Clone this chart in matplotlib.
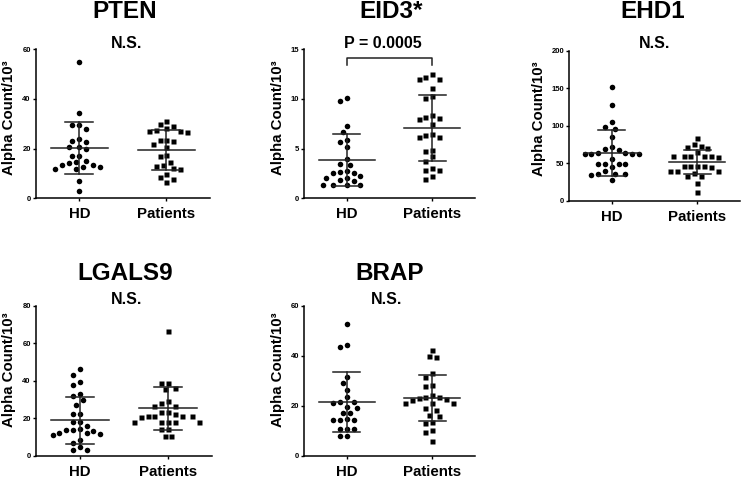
import numpy as np
import matplotlib
matplotlib.use('Agg')
import matplotlib.pyplot as plt

plt.rcParams['font.family'] = ['Liberation Sans', 'DejaVu Sans']
plt.rcParams['font.weight'] = 'bold'

# values (Alpha Count / 10^3)
groups = ['HD', 'Patients']

pten_hd = [54.6, 34.1, 29.5, 28.0, 29.5, 23.7, 22.8, 23.0, 20.7, 20.5, 19.8, 17.1, 17.1,
           14.3, 13.2, 12.6, 11.8, 11.6, 12.4, 13.4, 14.6, 15.0, 7.1, 2.8]
pten_pat = [31.2, 29.9, 29.0, 28.1, 27.4, 27.2, 27.0, 26.8, 23.6, 23.4, 23.2, 21.8, 20.7,
            17.4, 17.0, 14.7, 13.4, 13.0, 12.2, 11.8, 9.8, 8.7, 7.6, 6.7]

eid3_hd = [10.1, 9.8, 7.3, 6.7, 5.9, 5.7, 5.2, 3.9, 3.4, 3.3, 2.7, 2.6, 2.5, 2.5, 2.2,
           2.0, 1.8, 1.7, 2.0, 1.3, 1.3, 1.3, 1.3]
eid3_pat = [12.5, 12.2, 12.0, 12.0, 11.1, 10.3, 10.1, 8.4, 8.2, 8.1, 8.0, 7.5, 6.5, 6.4,
            6.2, 6.2, 4.9, 4.8, 4.2, 3.7, 3.0, 2.8, 2.8, 2.2, 1.9]

ehd1_hd = [151, 127, 105, 98, 96, 85, 71, 69, 68, 63, 62, 62, 62, 62, 63, 56, 49, 49, 49,
           49, 45, 39, 36, 36, 36, 34, 28]
ehd1_pat = [83, 75, 73, 72, 70, 65, 60, 60, 60, 60, 60, 58, 46, 46, 46, 45, 46, 40, 40, 40,
            37, 33, 33, 24, 12]

lgals9_hd = [46, 43, 39.5, 37.7, 33, 32, 29.7, 27, 22, 22, 18, 18, 16, 13.7, 13.7, 13, 14,
             11.5, 11, 12, 12, 8.4, 7, 4.4, 3, 3]
lgals9_pat = [66.5, 39, 39, 36, 35.4, 29, 28, 26.7, 26.7, 23.5, 23.5, 22, 21.4, 21, 21, 21,
              20.5, 18, 18, 18, 18, 18, 14, 14, 10.5, 10.5]

brap_hd = [52.8, 44.4, 43.6, 31.6, 29, 26.4, 23.6, 21.6, 21.4, 21.2, 19, 19.5, 17, 17, 14.6,
           14.4, 14.2, 14.2, 10.8, 10.8, 10.8, 8, 7.8]
brap_pat = [42.5, 40, 39.6, 33, 31.6, 28.2, 27.8, 24.3, 23.5, 23.5, 23.3, 22.5, 22.8, 21, 21,
            21, 19, 18.4, 16.2, 16, 13.3, 13.5, 10.5, 9.4, 5.9]

# mean and SD as drawn (HD, Patients)
pten_mean, pten_sd = [20.2, 19.5], [10.4, 8.0]
eid3_mean, eid3_sd = [3.85, 7.05], [2.6, 3.35]
ehd1_mean, ehd1_sd = [63.8, 51.5], [30.7, 16.5]
lgals9_mean, lgals9_sd = [18.8, 25.2], [12.5, 11.3]
brap_mean, brap_sd = [21.5, 23.0], [11.9, 9.2]

W, H = 745, 478
fig = plt.figure(figsize=(W / 100, H / 100), dpi=100)


def px_axes(l, t, r, b):
    return fig.add_axes([l / W, 1 - b / H, (r - l) / W, (b - t) / H])


def swarm(ax, xc, vals, d=6.8):
    # simple deterministic beeswarm in pixel space
    pts = ax.transData.transform([(xc, v) for v in vals])
    placed = []
    order = np.argsort(vals)[::-1]
    xs = np.zeros(len(vals))
    for i in order:
        y = pts[i, 1]
        best = None
        for k in range(0, 40):
            for sgn in ([1] if k == 0 else [-1, 1]):
                off = sgn * k * d / 2.0
                ok = all((off - po) ** 2 + (y - py) ** 2 >= d * d for po, py in placed)
                if ok:
                    best = off
                    break
            if best is not None:
                break
        placed.append((best, y))
        xs[i] = pts[i, 0] + best
    inv = ax.transData.inverted()
    return [inv.transform((x, 0))[0] for x in xs]


def panel(box, ymax, step, hd, pat, mean, sd, title, sub, tpos, spos, lx, ly):
    ax = px_axes(*box)
    ax.set_xlim(0.5, 2.5)
    ax.set_ylim(0, ymax)
    ax.set_yticks(np.arange(0, ymax + 0.1, step))
    ax.set_xticks([1, 2])
    ax.set_xticklabels(groups, fontsize=10.8, fontweight='bold')
    ax.tick_params(axis='y', labelsize=5.5, length=2.5, width=1, pad=1)
    ax.tick_params(axis='x', length=2.5, width=1, pad=4)
    for s in ['top', 'right']:
        ax.spines[s].set_visible(False)
    for s in ['left', 'bottom']:
        ax.spines[s].set_linewidth(1.1)
    for lab in ax.get_yticklabels():
        lab.set_fontweight('bold')

    xh = swarm(ax, 1, hd)
    xp = swarm(ax, 2, pat)
    ax.plot(xh, hd, 'o', color='black', ms=4.0, mec='none', clip_on=False, zorder=3)
    ax.plot(xp, pat, 's', color='black', ms=3.6, mec='none', clip_on=False, zorder=3)

    for x, m, s in zip([1, 2], mean, sd):
        ax.plot([x - 0.33, x + 0.33], [m, m], color='#222222', lw=1.1, zorder=4)
        ax.plot([x - 0.16, x + 0.16], [m + s, m + s], color='#222222', lw=1.1, zorder=4)
        ax.plot([x - 0.16, x + 0.16], [m - s, m - s], color='#222222', lw=1.1, zorder=4)
        ax.plot([x, x], [m - s, m + s], color='#222222', lw=1.1, zorder=4)

    fig.text(tpos[0] / W, 1 - tpos[1] / H, title, fontsize=17.5, fontweight='bold',
             ha='center', va='center')
    fig.text(spos[0] / W, 1 - spos[1] / H, sub, fontsize=11.5, fontweight='bold',
             ha='center', va='center')
    fig.text(lx / W, 1 - ly / H, 'Alpha Count/10³', fontsize=10.8, fontweight='bold',
             rotation=90, ha='center', va='center')
    return ax


panel((35.7, 49, 210, 198.3), 60, 20, pten_hd, pten_pat, pten_mean, pten_sd,
      'PTEN', 'N.S.', (125, 11), (127, 43), 9, 118)
ax2 = panel((304, 49, 475, 198.3), 15, 5, eid3_hd, eid3_pat, eid3_mean, eid3_sd,
            'EID3*', 'P = 0.0005', (391, 11), (383, 43), 278, 118)
ax2.plot([1, 1, 2, 2], [13.4, 14.07, 14.07, 13.4], color='#222222', lw=1.1, clip_on=False)
panel((569, 50.7, 740, 200.5), 200, 50, ehd1_hd, ehd1_pat, ehd1_mean, ehd1_sd,
      'EHD1', 'N.S.', (653, 11), (655, 44), 539, 119)
panel((35.7, 305.7, 212, 455.7), 80, 20, lgals9_hd, lgals9_pat, lgals9_mean, lgals9_sd,
      'LGALS9', 'N.S.', (125, 273), (127, 299), 9, 370)
panel((304, 305.7, 475, 456), 60, 20, brap_hd, brap_pat, brap_mean, brap_sd,
      'BRAP', 'N.S.', (390, 273), (387, 299), 278, 370)

fig.savefig('out.png', dpi=100)
